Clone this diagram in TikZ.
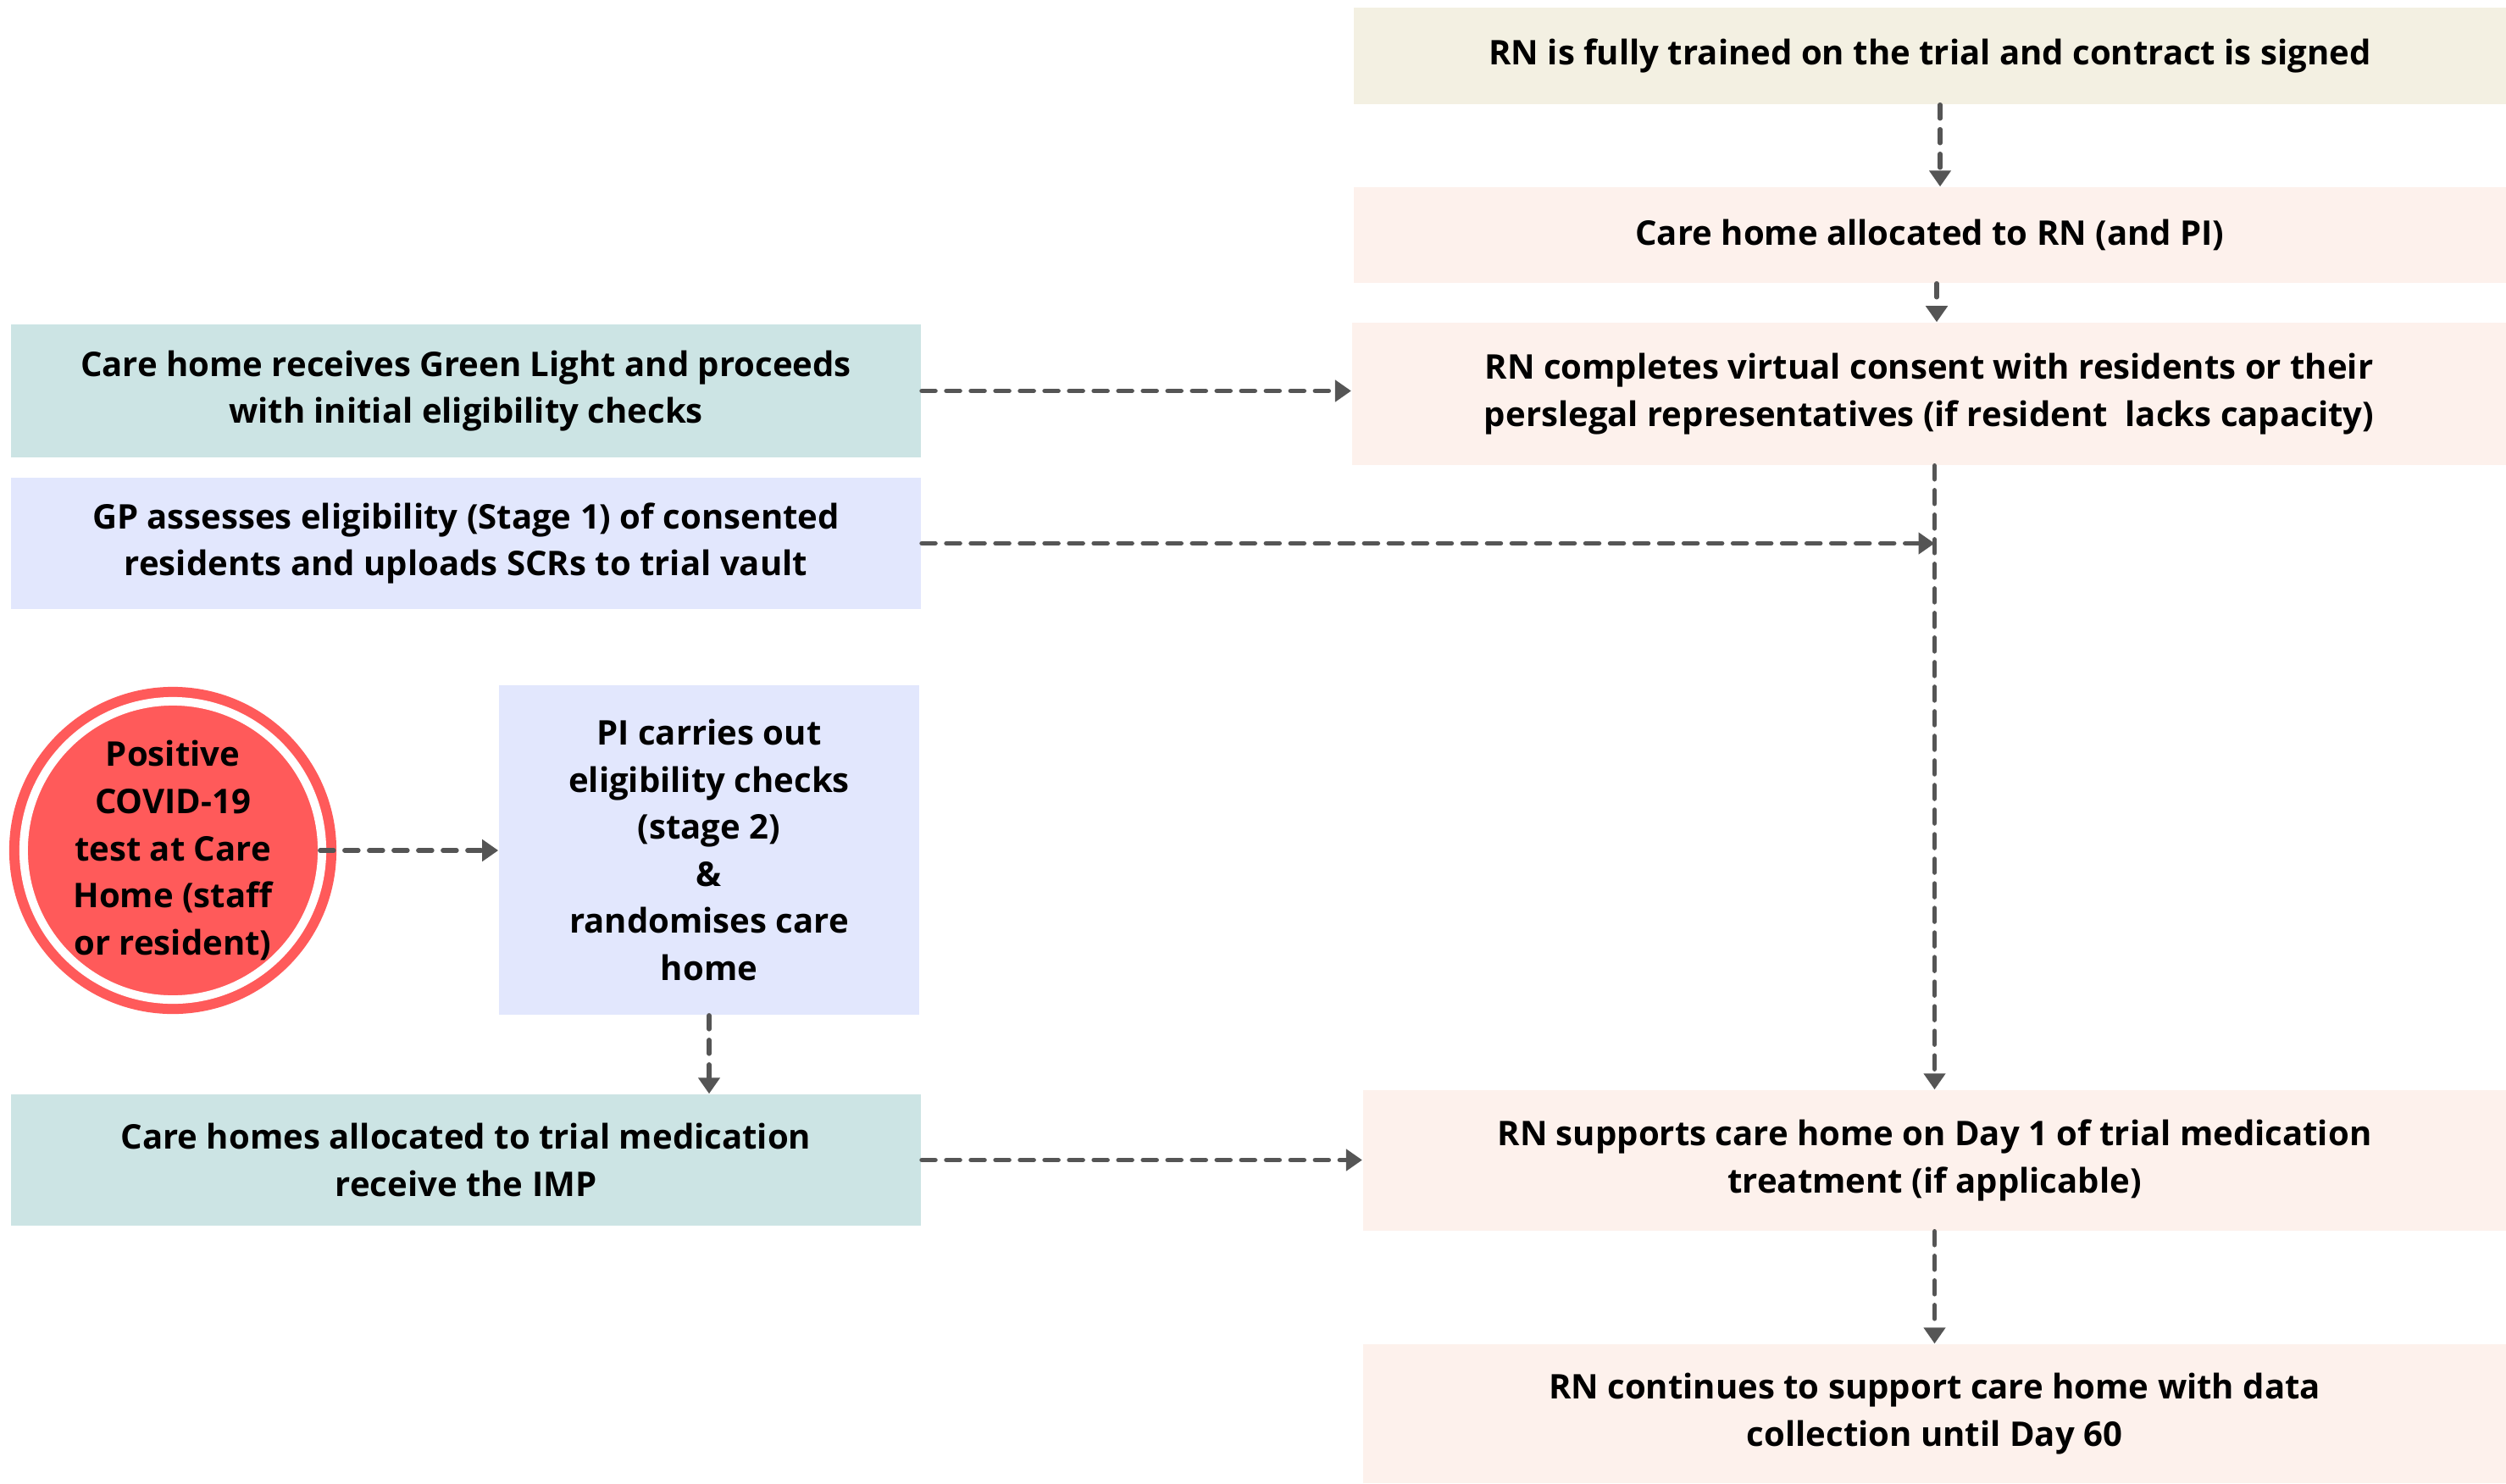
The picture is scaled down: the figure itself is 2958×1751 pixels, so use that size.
\documentclass[tikz,border=0pt]{standalone}
\usepackage{fontspec}
\setmainfont{Open Sans}
\usetikzlibrary{arrows.meta,calc}
\definecolor{cbeige}{HTML}{F3F0E2}
\definecolor{cpink}{HTML}{FDF1EC}
\definecolor{cteal}{HTML}{CCE4E4}
\definecolor{clav}{HTML}{E2E7FD}
\definecolor{cred}{HTML}{FF5A5A}
\definecolor{carr}{HTML}{555555}
\begin{document}
\begin{tikzpicture}[x=0.01cm,y=-0.01cm,
  box/.style={rectangle, draw=none, inner sep=0pt, align=center,
    font=\fontsize{11.4}{15.8}\selectfont\bfseries, text=black},
  arr/.style={draw=carr, line width=0.055cm, dash pattern=on 0.16cm off 0.13cm, line cap=round,
    -{Triangle[length=0.19cm,width=0.25cm]}}
]
\useasboundingbox (0,0) rectangle (2958,1751);
% right column
\node[box, fill=cbeige, minimum width=13.60cm, minimum height=1.14cm] (b1) at (2278,66)
  {RN is fully trained on the trial and contract is signed};
\node[box, fill=cpink, minimum width=13.60cm, minimum height=1.13cm] (b2) at (2278,277.5)
  {Care home allocated to RN (and PI)};
\node[box, fill=cpink, minimum width=13.62cm, minimum height=1.68cm] (b3) at (2277,465)
  {RN completes virtual consent with residents or their\\perslegal representatives (if resident\ \ lacks capacity)};
\node[box, fill=cpink, minimum width=13.49cm, minimum height=1.66cm] (rns) at (2283.5,1370)
  {RN supports care home on Day 1 of trial medication\\treatment (if applicable)};
\node[box, fill=cpink, minimum width=13.49cm, minimum height=1.64cm] (rnc) at (2283.5,1669)
  {RN continues to support care home with data\\collection until Day 60};
% left column
\node[box, fill=cteal, minimum width=10.74cm, minimum height=1.57cm] (gl) at (550,461.5)
  {Care home receives Green Light and proceeds\\with initial eligibility checks};
\node[box, fill=clav, minimum width=10.74cm, minimum height=1.55cm] (gp) at (550,641.5)
  {GP assesses eligibility (Stage 1) of consented\\residents and uploads SCRs to trial vault};
\node[box, circle, fill=cred, minimum size=3.86cm] (circ) at (204,1004)
  {Positive\\COVID-19\\test at Care\\Home (staff\\or resident)};
\node[box, fill=clav, minimum width=4.96cm, minimum height=3.89cm] (pi) at (837,1003.5)
  {PI carries out\\eligibility checks\\(stage 2)\\\&\\randomises care\\home};
\node[box, fill=cteal, minimum width=10.74cm, minimum height=1.55cm] (cha) at (550,1369.5)
  {Care homes allocated to trial medication\\receive the IMP};
% white ring of the circle
\draw[white, line width=0.1cm] (circ.center) circle[radius=1.76cm];
% connectors
\coordinate (gpend) at (rns.north |- gp.east);
\draw[arr] (b1.south -| 2290,0) -- (b2.north -| 2290,0);
\draw[arr] (b2.south -| 2286,0) -- (b3.north -| 2286,0);
\draw[arr] (b3.south -| rns.north) -- (rns.north);
\draw[arr] (gl.east) -- (b3.west |- gl.east);
\draw[arr] (gp.east) -- (gpend);
\draw[arr] ($(circ.east)+(-20,0)$) -- (pi.west |- circ.east);
\draw[arr] (pi.south) -- (pi.south |- cha.north);
\draw[arr] (cha.east) -- (rns.west |- cha.east);
\draw[arr] (rns.south) -- (rnc.north);
\end{tikzpicture}
\end{document}
